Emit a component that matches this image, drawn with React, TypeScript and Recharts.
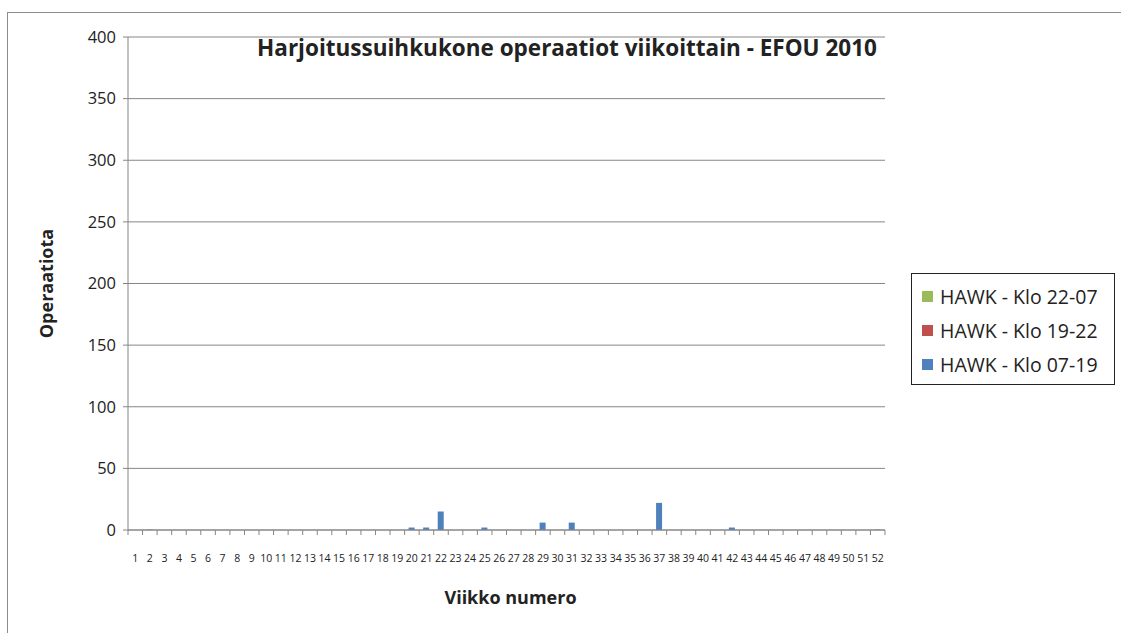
import React from "react";
import {
  BarChart,
  Bar,
  XAxis,
  YAxis,
  CartesianGrid,
  Legend,
} from "recharts";

// week numbers 1..52
const weeks = [
  "1", "2", "3", "4", "5", "6", "7", "8", "9", "10", "11", "12", "13",
  "14", "15", "16", "17", "18", "19", "20", "21", "22", "23", "24", "25", "26",
  "27", "28", "29", "30", "31", "32", "33", "34", "35", "36", "37", "38", "39",
  "40", "41", "42", "43", "44", "45", "46", "47", "48", "49", "50", "51", "52",
];

// HAWK - Klo 07-19
const day = [
  0, 0.3, 0, 0, 0, 0, 0, 0, 0, 0, 0, 0, 0,
  0, 0, 0, 0, 0, 0, 2, 2, 15, 0, 0, 2, 0,
  0, 0, 6, 0, 6, 0, 0, 0, 0, 0, 22, 0, 0,
  0, 0, 2, 0, 0, 0, 0, 0, 0, 0, 0, 0, 0.3,
];
// HAWK - Klo 19-22
const evening = new Array(52).fill(0);
// HAWK - Klo 22-07
const night = new Array(52).fill(0);

const yTicks = [0, 50, 100, 150, 200, 250, 300, 350, 400];

const data = weeks.map((w, i) => ({
  week: w,
  day: day[i],
  evening: evening[i],
  night: night[i],
}));

const legendItems = [
  { label: "HAWK - Klo 22-07", color: "#9BBB59" },
  { label: "HAWK - Klo 19-22", color: "#C0504D" },
  { label: "HAWK - Klo 07-19", color: "#4F81BD" },
];

const W = 1121;
const H = 633;
const PLOT_LEFT = 128;
const PLOT_RIGHT = 885;
const BAND = (PLOT_RIGHT - PLOT_LEFT) / weeks.length;
const FONT = "'Open Sans', 'Liberation Sans', sans-serif";

const WeekTick = (props: any) => {
  const { x, y, payload, index } = props;
  const left = x - BAND / 2;
  return (
    <g>
      <line x1={left} y1={y - 8} x2={left} y2={y - 3} stroke="#868686" />
      {index === weeks.length - 1 && (
        <line x1={x + BAND / 2} y1={y - 8} x2={x + BAND / 2} y2={y - 3} stroke="#868686" />
      )}
      <text x={x} y={y + 24} textAnchor="middle" fontSize={10.5} fill="#222" fontFamily={FONT}>
        {payload.value}
      </text>
    </g>
  );
};

const LegendBox = () => (
  <div
    style={{
      border: "1px solid #222",
      width: 204,
      height: 112,
      boxSizing: "border-box",
      padding: "5px 0 0 10px",
      fontFamily: FONT,
      fontSize: 19.5,
      color: "#222",
      background: "#fff",
      textAlign: "left",
    }}
  >
    {legendItems.map((it) => (
      <div key={it.label} style={{ display: "flex", alignItems: "center", height: 34, whiteSpace: "nowrap" }}>
        <span style={{ width: 11, height: 11, background: it.color, marginRight: 7, flex: "none" }} />
        {it.label}
      </div>
    ))}
  </div>
);

export default function App() {
  return (
    <div style={{ position: "absolute", left: 0, top: 0, width: W, height: H, background: "#fff", overflow: "hidden" }}>
      <div
        style={{
          position: "absolute",
          left: 7,
          top: 12,
          width: W,
          height: H,
          border: "1.5px solid #8c8c8c",
        }}
      />
      <BarChart
        width={W}
        height={H}
        data={data}
        margin={{ top: 37, right: W - PLOT_RIGHT, bottom: 33, left: 0 }}
        barSize={6}
        style={{ position: "absolute", left: 0, top: 0 }}
      >
        <CartesianGrid vertical={false} stroke="#868686" strokeWidth={1} />
        <XAxis
          dataKey="week"
          interval={0}
          height={70}
          stroke="#868686"
          tickLine={false}
          tick={<WeekTick />}
          label={{
            value: "Viikko numero",
            position: "insideBottom",
            offset: 0,
            dx: 4,
            dy: 4,
            style: { fontFamily: FONT, fontSize: 18, fontWeight: 700, fill: "#222" },
          }}
        />
        <YAxis
          width={PLOT_LEFT}
          domain={[0, 400]}
          ticks={yTicks}
          interval={0}
          stroke="#868686"
          tickSize={5}
          tickMargin={7}
          tick={{ fontFamily: FONT, fontSize: 16.5, fill: "#222" }}
          label={{
            value: "Operaatiota",
            angle: -90,
            position: "insideLeft",
            offset: 47,
            style: { fontFamily: FONT, fontSize: 18, fontWeight: 700, fill: "#222", textAnchor: "middle" },
          }}
        />
        <Legend
          layout="vertical"
          align="center"
          verticalAlign="middle"
          content={<LegendBox />}
          wrapperStyle={{ left: 911, top: 273, width: 204, height: 112 }}
        />
        <Bar dataKey="day" stackId="a" fill="#4F81BD" isAnimationActive={false} />
        <Bar dataKey="evening" stackId="a" fill="#C0504D" isAnimationActive={false} />
        <Bar dataKey="night" stackId="a" fill="#9BBB59" isAnimationActive={false} />
        <text
          x={567}
          y={56}
          textAnchor="middle"
          fontFamily={FONT}
          fontSize={22.5}
          fontWeight={700}
          fill="#222"
        >
          Harjoitussuihkukone operaatiot viikoittain - EFOU 2010
        </text>
      </BarChart>
    </div>
  );
}
